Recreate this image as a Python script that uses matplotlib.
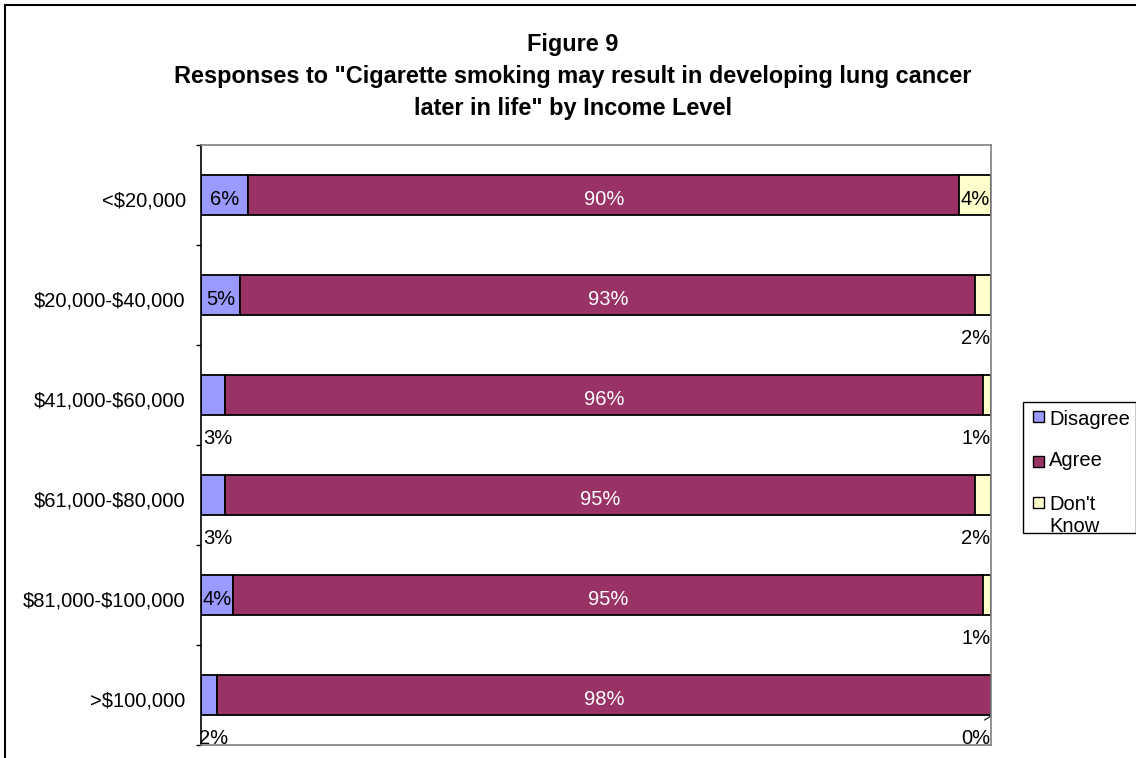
import matplotlib
matplotlib.use("Agg")
import matplotlib.pyplot as plt
import matplotlib.transforms as mtransforms
from matplotlib.patches import Rectangle
from matplotlib.lines import Line2D

plt.rcParams['font.family'] = ['Liberation Sans', 'DejaVu Sans']
plt.rcParams['text.parse_math'] = False

categories = ["<$20,000", "$20,000-$40,000", "$41,000-$60,000",
              "$61,000-$80,000", "$81,000-$100,000", ">$100,000"]
disagree = [6, 5, 3, 3, 4, 2]
agree = [90, 93, 96, 95, 95, 98]
dont_know = [4, 2, 1, 2, 1, 0]
series_names = ["Disagree", "Agree", "Don't\nKnow"]
colors = ["#9999FF", "#993366", "#FFFFCC"]
title_lines = ["Figure 9",
               "Responses to \"Cigarette smoking may result in developing lung cancer",
               "later in life\" by Income Level"]

W, H = 1136, 758
fig = plt.figure(figsize=(W / 100, H / 100), dpi=100)

# outer frame
fig.add_artist(Rectangle((5 / W, -0.1), 1.2, 1.1 - 5 / H, transform=fig.transFigure,
                         fill=False, edgecolor="black", linewidth=1.5))

ax = fig.add_axes([201 / W, 1 - 745 / H, 790 / W, 600 / H])
n = len(categories)
ypos = list(range(n))
bh = 0.4
fs = 14.5

ax.barh(ypos, disagree, height=bh, color=colors[0], edgecolor="black", linewidth=1.3)
ax.barh(ypos, agree, left=disagree, height=bh, color=colors[1], edgecolor="black", linewidth=1.3)
left2 = [d + a for d, a in zip(disagree, agree)]
ax.barh(ypos, dont_know, left=left2, height=bh, color=colors[2], edgecolor="black", linewidth=1.3)

ax.set_xlim(0, 100)
ax.set_ylim(n - 0.5, -0.5)
ax.set_xticks([])
ax.set_yticks(ypos)
ax.set_yticklabels(categories, fontsize=fs)
ax.set_yticks([i - 0.5 for i in range(n + 1)], minor=True)
ax.tick_params(axis='y', which='major', length=0, pad=11)
ax.tick_params(axis='y', which='minor', length=3.6, width=1, color='black')
offset = mtransforms.ScaledTranslation(0, -4 / 100, fig.dpi_scale_trans)
for lab in ax.get_yticklabels():
    lab.set_transform(lab.get_transform() + offset)
for s in ['top', 'right', 'bottom']:
    ax.spines[s].set_color('#808080')
    ax.spines[s].set_linewidth(1.2)
ax.spines['left'].set_color('black')
ax.spines['left'].set_linewidth(1.2)

# data labels
for i in range(n):
    d, a, k = disagree[i], agree[i], dont_know[i]
    inside = i + 0.10
    below = i + 0.485
    if d >= 4:
        ax.text(d / 2, inside, f"{d}%", ha='center', va='baseline', fontsize=fs, color='black')
    else:
        ax.text(d / 2 + 0.6, below, f"{d}%", ha='center', va='baseline', fontsize=fs,
                color='black', clip_on=False)
    ax.text(d + a / 2, inside, f"{a}%", ha='center', va='baseline', fontsize=fs, color='white')
    if k >= 4:
        ax.text(d + a + k / 2, inside, f"{k}%", ha='center', va='baseline', fontsize=fs,
                color='black')
    else:
        ax.text(99.9, below, f"{k}%", ha='right', va='baseline', fontsize=fs,
                color='black', clip_on=False)
        if k == 0:
            ax.add_line(Line2D([100, 99.2], [i + bh / 2 + 0.01, i + bh / 2 + 0.05],
                               color='black', linewidth=0.8, clip_on=False))

# title
title_base = [51.5, 83, 114.5]
for t, yy in zip(title_lines, title_base):
    fig.text(573 / W, 1 - yy / H, t, ha='center', va='baseline', fontsize=16.9,
             fontweight='bold', color='black')

# legend (manual)
fig.add_artist(Rectangle((1023 / W, 1 - 533 / H), 113 / W, 131 / H, transform=fig.transFigure,
                         fill=False, edgecolor='black', linewidth=1))
marker_c = [417, 461, 502]
text_base = [425.5, 466.5, 510]
for name, c, my, ty in zip(series_names, colors, marker_c, text_base):
    fig.add_artist(Rectangle((1032.5 / W, 1 - (my + 5.5) / H), 11 / W, 11 / H,
                             transform=fig.transFigure, facecolor=c, edgecolor='black',
                             linewidth=1))
    lines = name.split('\n')
    for j, ln in enumerate(lines):
        fig.text(1049 / W, 1 - (ty + 22 * j) / H, ln, ha='left', va='baseline',
                 fontsize=fs, color='black')

fig.savefig("out.png", dpi=100)
